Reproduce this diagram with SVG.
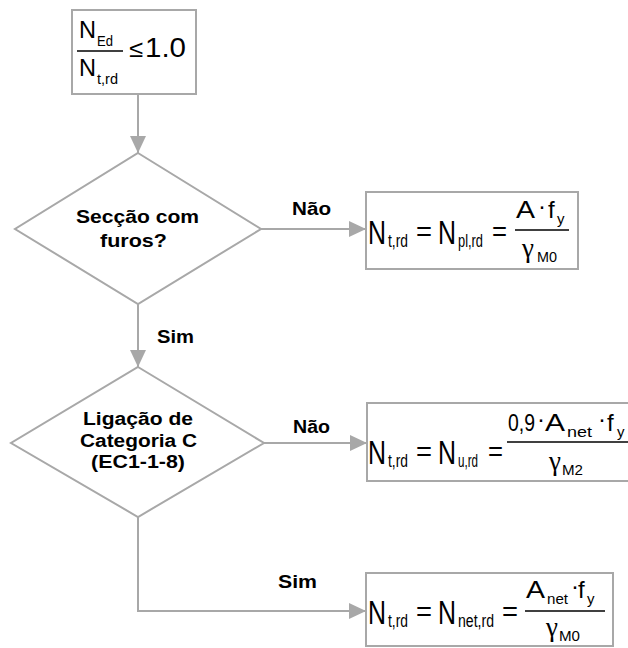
<svg xmlns="http://www.w3.org/2000/svg" width="628" height="648" viewBox="0 0 628 648">
<defs>
<style>
.box{fill:#fff;stroke:#a8a8a8;stroke-width:2}
.con{fill:none;stroke:#a8a8a8;stroke-width:2}
.lbl{font-family:"Liberation Sans",Arial,sans-serif;font-weight:bold;font-size:18px;fill:#000}
.m{font-family:"Liberation Sans",Arial,sans-serif;fill:#000}
.big{font-size:34px}
.mid{font-size:24px}
.sub{font-size:18px}
.ssub{font-size:15px}
.g{font-family:"Liberation Serif","Times New Roman",serif;font-size:27px;fill:#000}
.bar{stroke:#000;stroke-width:1.5}
</style>
<marker id="ah" markerUnits="userSpaceOnUse" markerWidth="18" markerHeight="16" refX="17" refY="8" orient="auto">
<path d="M0,0 L17,8 L0,16 Z" fill="#a8a8a8"/>
</marker>
</defs>
<rect width="628" height="648" fill="#fff"/>

<g id="connectors">
<line class="con" x1="138" y1="94" x2="138" y2="153" marker-end="url(#ah)"/>
<line class="con" x1="260" y1="229" x2="366" y2="229" marker-end="url(#ah)"/>
<line class="con" x1="138" y1="304" x2="138" y2="367" marker-end="url(#ah)"/>
<line class="con" x1="263" y1="443" x2="367" y2="443" marker-end="url(#ah)"/>
<polyline class="con" points="138,517 138,611 366,611" marker-end="url(#ah)"/>
<text class="lbl" x="292" y="215" textLength="39" lengthAdjust="spacingAndGlyphs">Não</text>
<text class="lbl" x="157" y="343" textLength="37" lengthAdjust="spacingAndGlyphs">Sim</text>
<text class="lbl" x="293" y="433" textLength="37" lengthAdjust="spacingAndGlyphs">Não</text>
<text class="lbl" x="278" y="588" textLength="39" lengthAdjust="spacingAndGlyphs">Sim</text>
</g>

<g id="start">
<rect class="box" x="72" y="10" width="124" height="84"/>
<text class="m mid" x="79" y="38" textLength="17" lengthAdjust="spacingAndGlyphs">N</text>
<text class="m ssub" x="97" y="46" textLength="16" lengthAdjust="spacingAndGlyphs">Ed</text>
<line class="bar" x1="77" y1="51" x2="123" y2="51"/>
<text class="m mid" x="79" y="76" textLength="17" lengthAdjust="spacingAndGlyphs">N</text>
<text class="m ssub" x="97" y="84" textLength="21" lengthAdjust="spacingAndGlyphs">t,rd</text>
<text class="m" x="129" y="57" font-size="24" textLength="14" lengthAdjust="spacingAndGlyphs">≤</text>
<text class="m" x="145" y="57" font-size="27" textLength="41" lengthAdjust="spacingAndGlyphs">1.0</text>
</g>

<g id="decision1">
<polygon class="box" points="138,153 261,229 138,304 15,229"/>
<text class="lbl" x="76" y="223" textLength="123" lengthAdjust="spacingAndGlyphs">Secção com</text>
<text class="lbl" x="100" y="247" textLength="67" lengthAdjust="spacingAndGlyphs">furos?</text>
</g>

<g id="result1">
<rect class="box" x="366" y="192" width="212" height="77"/>
<text class="m big" x="368" y="244" textLength="18" lengthAdjust="spacingAndGlyphs">N</text>
<text class="m sub" x="388" y="247" textLength="20" lengthAdjust="spacingAndGlyphs">t,rd</text>
<text class="m" x="416" y="241" font-size="28" textLength="16" lengthAdjust="spacingAndGlyphs">=</text>
<text class="m big" x="438" y="244" textLength="18" lengthAdjust="spacingAndGlyphs">N</text>
<text class="m sub" x="458" y="247" textLength="25" lengthAdjust="spacingAndGlyphs">pl,rd</text>
<text class="m" x="492" y="241" font-size="28" textLength="15" lengthAdjust="spacingAndGlyphs">=</text>
<line class="bar" x1="515" y1="230" x2="569" y2="230"/>
<text class="m mid" x="516" y="218" textLength="19" lengthAdjust="spacingAndGlyphs">A</text>
<text class="m mid" x="538" y="214">·</text>
<text class="m mid" x="548" y="218">f</text>
<text class="m ssub" x="557" y="224">y</text>
<text class="g" x="522" y="257">γ</text>
<text class="m ssub" x="537" y="262" textLength="20" lengthAdjust="spacingAndGlyphs">M0</text>
</g>

<g id="decision2">
<polygon class="box" points="138,367 264,443 138,517 11,443"/>
<text class="lbl" x="83" y="425" textLength="110" lengthAdjust="spacingAndGlyphs">Ligação de</text>
<text class="lbl" x="80" y="447" textLength="117" lengthAdjust="spacingAndGlyphs">Categoria C</text>
<text class="lbl" x="91" y="468" textLength="94" lengthAdjust="spacingAndGlyphs">(EC1-1-8)</text>
</g>

<g id="result2">
<rect class="box" x="367" y="403" width="280" height="78"/>
<text class="m big" x="368" y="464" textLength="18" lengthAdjust="spacingAndGlyphs">N</text>
<text class="m sub" x="388" y="467" textLength="20" lengthAdjust="spacingAndGlyphs">t,rd</text>
<text class="m" x="416" y="461" font-size="28" textLength="16" lengthAdjust="spacingAndGlyphs">=</text>
<text class="m big" x="438" y="464" textLength="18" lengthAdjust="spacingAndGlyphs">N</text>
<text class="m sub" x="458" y="467" textLength="20" lengthAdjust="spacingAndGlyphs">u,rd</text>
<text class="m" x="488" y="461" font-size="28" textLength="15" lengthAdjust="spacingAndGlyphs">=</text>
<line class="bar" x1="507" y1="442" x2="628" y2="442"/>
<text class="m mid" x="508" y="431" textLength="27" lengthAdjust="spacingAndGlyphs">0,9</text>
<text class="m mid" x="537" y="427">·</text>
<text class="m mid" x="545" y="431" textLength="20" lengthAdjust="spacingAndGlyphs">A</text>
<text class="m ssub" x="567" y="437" textLength="25" lengthAdjust="spacingAndGlyphs">net</text>
<text class="m mid" x="598" y="427">·</text>
<text class="m mid" x="607" y="431">f</text>
<text class="m ssub" x="617" y="437">y</text>
<text class="g" x="549" y="470">γ</text>
<text class="m ssub" x="562" y="475" textLength="21" lengthAdjust="spacingAndGlyphs">M2</text>
</g>

<g id="result3">
<rect class="box" x="366" y="573" width="247" height="73"/>
<text class="m big" x="368" y="624" textLength="18" lengthAdjust="spacingAndGlyphs">N</text>
<text class="m sub" x="388" y="627" textLength="20" lengthAdjust="spacingAndGlyphs">t,rd</text>
<text class="m" x="416" y="621" font-size="28" textLength="16" lengthAdjust="spacingAndGlyphs">=</text>
<text class="m big" x="438" y="624" textLength="18" lengthAdjust="spacingAndGlyphs">N</text>
<text class="m sub" x="458" y="627" textLength="36" lengthAdjust="spacingAndGlyphs">net,rd</text>
<text class="m" x="502" y="621" font-size="28" textLength="16" lengthAdjust="spacingAndGlyphs">=</text>
<line class="bar" x1="525" y1="611" x2="605" y2="611"/>
<text class="m mid" x="526" y="598" textLength="19" lengthAdjust="spacingAndGlyphs">A</text>
<text class="m ssub" x="547" y="604" textLength="21" lengthAdjust="spacingAndGlyphs">net</text>
<text class="m mid" x="571" y="594">·</text>
<text class="m mid" x="578" y="598">f</text>
<text class="m ssub" x="587" y="604">y</text>
<text class="g" x="546" y="636">γ</text>
<text class="m ssub" x="559" y="641" textLength="21" lengthAdjust="spacingAndGlyphs">M0</text>
</g>
</svg>
